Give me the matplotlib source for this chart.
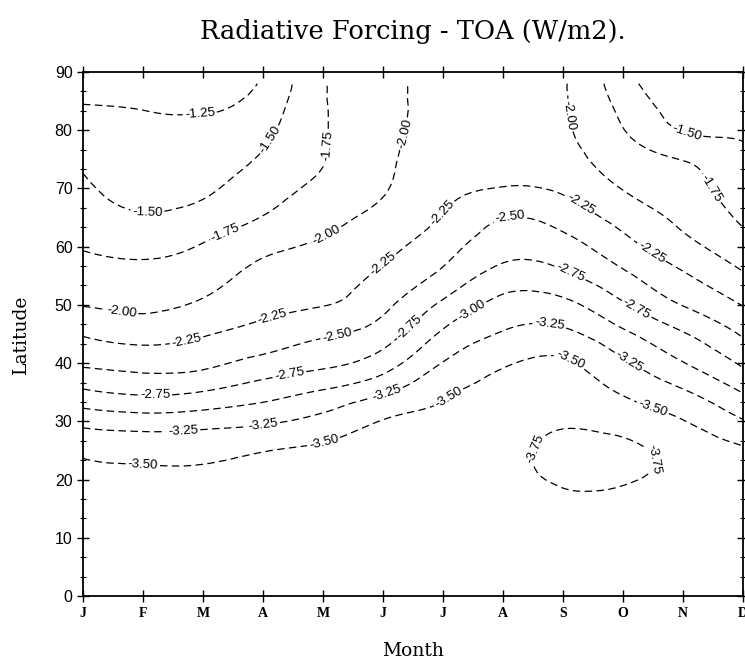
import numpy as np
import matplotlib.pyplot as plt
import matplotlib.tri as mtri
from matplotlib.ticker import AutoMinorLocator

plt.rcParams['font.family'] = ['Liberation Sans', 'DejaVu Sans']

month_labels = ['J', 'F', 'M', 'A', 'M', 'J', 'J', 'A', 'S', 'O', 'N', 'D']
lats = [0, 10, 15, 20, 25, 30, 35, 40, 45, 50, 55, 60, 65, 70, 75, 80, 85, 88]

# TOA forcing (W/m2) at each latitude above, one list per month
jan = [-3.62, -3.62, -3.60, -3.55, -3.46, -3.17, -2.79, -2.46, -2.23, -1.99, -1.86, -1.73, -1.60, -1.52, -1.47, -1.35, -1.24, -1.20]
feb = [-3.62, -3.62, -3.60, -3.55, -3.42, -3.12, -2.71, -2.41, -2.15, -1.95, -1.82, -1.68, -1.52, -1.44, -1.37, -1.30, -1.23, -1.20]
mar = [-3.62, -3.62, -3.60, -3.55, -3.43, -3.15, -2.76, -2.44, -2.23, -2.04, -1.90, -1.77, -1.59, -1.46, -1.37, -1.29, -1.22, -1.18]
apr = [-3.62, -3.62, -3.61, -3.58, -3.49, -3.21, -2.89, -2.58, -2.34, -2.18, -2.07, -1.94, -1.76, -1.64, -1.53, -1.44, -1.34, -1.28]
may = [-3.60, -3.62, -3.62, -3.60, -3.54, -3.33, -3.03, -2.69, -2.47, -2.24, -2.14, -2.04, -1.92, -1.81, -1.74, -1.73, -1.73, -1.73]
jun = [-3.60, -3.62, -3.63, -3.63, -3.58, -3.51, -3.22, -2.88, -2.63, -2.44, -2.30, -2.18, -2.07, -1.98, -1.95, -1.92, -1.92, -1.92]
jul = [-3.62, -3.63, -3.64, -3.65, -3.62, -3.56, -3.46, -3.26, -3.04, -2.80, -2.56, -2.40, -2.27, -2.18, -2.13, -2.11, -2.10, -2.10]
aug = [-3.63, -3.66, -3.68, -3.70, -3.69, -3.64, -3.58, -3.47, -3.27, -3.08, -2.85, -2.65, -2.49, -2.26, -2.17, -2.12, -2.10, -2.08]
sep = [-3.65, -3.70, -3.72, -3.77, -3.80, -3.72, -3.61, -3.53, -3.31, -3.07, -2.80, -2.60, -2.40, -2.21, -2.08, -2.03, -2.02, -2.02]
oct = [-3.65, -3.69, -3.70, -3.77, -3.80, -3.65, -3.48, -3.29, -3.05, -2.78, -2.55, -2.34, -2.16, -1.99, -1.88, -1.76, -1.66, -1.60]
nov = [-3.63, -3.65, -3.66, -3.68, -3.66, -3.51, -3.28, -3.01, -2.77, -2.49, -2.28, -2.08, -1.94, -1.84, -1.74, -1.49, -1.40, -1.35]
dec = [-3.60, -3.62, -3.62, -3.60, -3.53, -3.27, -2.99, -2.71, -2.47, -2.24, -2.03, -1.85, -1.71, -1.63, -1.54, -1.47, -1.42, -1.38]

levels = [-3.75, -3.50, -3.25, -3.00, -2.75, -2.50, -2.25, -2.00, -1.75, -1.50, -1.25]

# where the contour labels sit (month index, latitude)
label_spots = [
    (1.95, 82.3), (1.07, 65.6), (3.17, 78.0), (2.4, 61.8), (4.2, 77.3),
    (0.65, 49.6), (4.07, 61.8), (5.65, 78.5), (8.12, 82.6), (10.08, 80.2),
    (10.28, 69.0), (1.73, 43.7), (3.17, 47.5), (5.0, 57.0), (5.95, 66.1),
    (8.28, 67.0), (9.42, 58.2), (4.23, 45.0), (7.12, 65.0), (1.2, 34.3),
    (3.45, 37.5), (5.45, 46.1), (8.12, 55.6), (9.22, 49.2), (6.5, 48.7),
    (1.67, 28.2), (3.0, 29.4), (5.07, 34.6), (7.78, 47.0), (9.12, 40.6),
    (1.0, 22.9), (4.0, 26.8), (6.12, 33.7), (8.12, 40.6), (9.5, 32.5),
    (7.57, 25.1), (9.48, 23.4),
]

field = np.array([jan, feb, mar, apr, may, jun, jul, aug, sep, oct, nov, dec])
mm, ll = np.meshgrid(np.arange(len(month_labels)), lats, indexing='ij')
tri = mtri.Triangulation(mm.ravel().astype(float), ll.ravel().astype(float))
refiner = mtri.UniformTriRefiner(tri)
tri_f, z_f = refiner.refine_field(field.ravel(), subdiv=3)

fig = plt.figure(figsize=(7.45, 6.63), dpi=100)
ax = fig.add_axes([0.1114, 0.1011, 0.886, 0.7903])

cs = ax.tricontour(tri_f, z_f, levels=levels, colors='k', linewidths=0.9,
                   linestyles=[(0, (6, 3.5))])
texts = ax.clabel(cs, fmt='%.2f', fontsize=9.5, inline=True, inline_spacing=2,
                  manual=label_spots)
for t in texts:
    t.set_fontfamily('Liberation Sans')

ax.set_xlim(0, 11)
ax.set_ylim(0, 90)
ax.set_xticks(range(len(month_labels)))
ax.set_xticklabels(month_labels, fontfamily='Liberation Serif', fontweight='bold', fontsize=10)
ax.set_yticks(range(0, 91, 10))
ax.yaxis.set_minor_locator(AutoMinorLocator(3))
ax.tick_params(axis='y', labelsize=11.5)
ax.tick_params(which='major', direction='inout', length=8, width=1, top=True, right=True)
ax.tick_params(which='minor', direction='inout', length=5, width=0.8, right=True)
ax.tick_params(axis='x', pad=4)
for s in ax.spines.values():
    s.set_linewidth(1.3)

ax.set_title('Radiative Forcing - TOA (W/m2).', fontfamily='DejaVu Serif', fontsize=18.5, pad=24)
ax.set_xlabel('Month', fontfamily='DejaVu Serif', fontsize=13.5, labelpad=16)
ax.set_ylabel('Latitude', fontfamily='DejaVu Serif', fontsize=13.5, labelpad=18)

fig.savefig('out.png', dpi=100)
